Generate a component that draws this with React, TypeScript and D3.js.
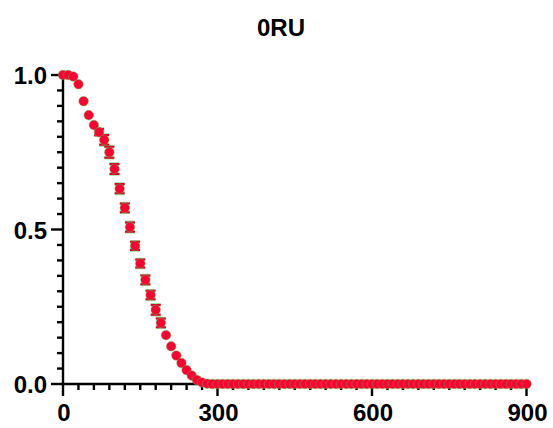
import React from "react";
import * as d3 from "d3";

const title = "0RU";
const times = [
  0, 10, 20, 30, 40, 50, 60, 70, 80, 90, 100, 110, 120, 130, 140, 150, 160, 170, 180, 190,
  200, 210, 220, 230, 240, 250, 260, 270, 280, 290, 300, 310, 320, 330, 340, 350, 360, 370, 380, 390,
  400, 410, 420, 430, 440, 450, 460, 470, 480, 490, 500, 510, 520, 530, 540, 550, 560, 570, 580, 590,
  600, 610, 620, 630, 640, 650, 660, 670, 680, 690, 700, 710, 720, 730, 740, 750, 760, 770, 780, 790,
  800, 810, 820, 830, 840, 850, 860, 870, 880, 890, 900,
];
const means = [
  1.0, 1.0, 0.995, 0.97, 0.915, 0.87, 0.838, 0.815, 0.79, 0.75, 0.696, 0.632, 0.57, 0.508, 0.447, 0.39, 0.337, 0.288, 0.24, 0.198,
  0.158, 0.122, 0.092, 0.068, 0.045, 0.027, 0.013, 0.005, 0.001, 0, 0, 0, 0, 0, 0, 0, 0, 0, 0, 0,
  0, 0, 0, 0, 0, 0, 0, 0, 0, 0, 0, 0, 0, 0, 0, 0, 0, 0, 0, 0,
  0, 0, 0, 0, 0, 0, 0, 0, 0, 0, 0, 0, 0, 0, 0, 0, 0, 0, 0, 0,
  0, 0, 0, 0, 0, 0, 0, 0, 0, 0, 0,
];
const errors = [
  0.004, 0.004, 0.004, 0.004, 0.004, 0.004, 0.005, 0.01, 0.016, 0.018, 0.016, 0.015, 0.014, 0.015, 0.013, 0.013, 0.014, 0.014, 0.016, 0.014,
  0.006, 0.004, 0.003, 0.003, 0.003, 0.003, 0.003, 0.002, 0, 0, 0, 0, 0, 0, 0, 0, 0, 0, 0, 0,
  0, 0, 0, 0, 0, 0, 0, 0, 0, 0, 0, 0, 0, 0, 0, 0, 0, 0, 0, 0,
  0, 0, 0, 0, 0, 0, 0, 0, 0, 0, 0, 0, 0, 0, 0, 0, 0, 0, 0, 0,
  0, 0, 0, 0, 0, 0, 0, 0, 0, 0, 0,
];
const xMajorTicks = [0, 300, 600, 900];
const xMinorTicks = [30, 60, 90, 120, 150, 180, 210, 240, 270, 330, 360, 390, 420, 450, 480, 510, 540, 570, 630, 660, 690, 720, 750, 780, 810, 840, 870];
const yMajorTicks = [0, 0.5, 1.0];
const yMinorTicks = [0.05, 0.1, 0.15, 0.2, 0.25, 0.3, 0.35, 0.4, 0.45, 0.55, 0.6, 0.65, 0.7, 0.75, 0.8, 0.85, 0.9, 0.95];

const W = 553;
const H = 428;
const RED = "#ff0033";
const GREEN = "#44cc44";
const FONT = "'Liberation Sans', Arial, Helvetica, sans-serif";

export default function App() {
  const x = d3.scaleLinear().domain([0, 900]).range([63, 526.5]);
  const y = d3.scaleLinear().domain([0, 1]).range([384, 75]);
  const data = times.map((t, i) => ({ t, m: means[i], e: errors[i] }));
  const fmt = d3.format(".1f");
  return (
    <svg width={W} height={H} style={{ position: "absolute", left: 0, top: 0, display: "block", background: "#fff" }}>
      <text x={281} y={36} textAnchor="middle" fontFamily={FONT} fontWeight="bold" fontSize={24} fill="#000">
        {title}
      </text>
      {/* axes */}
      <g stroke="#000" strokeWidth={2.4} fill="none">
        <line x1={x(0)} x2={x(0)} y1={y(1) - 1.2} y2={y(0) + 1.2} />
        <line x1={x(0) - 1.2} x2={x(900) + 1.2} y1={y(0)} y2={y(0)} />
        {yMajorTicks.map((v) => (
          <line key={"ym" + v} x1={x(0) - 12} x2={x(0)} y1={y(v)} y2={y(v)} />
        ))}
        {yMinorTicks.map((v) => (
          <line key={"yn" + v} x1={x(0) - 6} x2={x(0)} y1={y(v)} y2={y(v)} />
        ))}
        {xMajorTicks.map((v) => (
          <line key={"xm" + v} x1={x(v)} x2={x(v)} y1={y(0)} y2={y(0) + 12} />
        ))}
        {xMinorTicks.map((v) => (
          <line key={"xn" + v} x1={x(v)} x2={x(v)} y1={y(0)} y2={y(0) + 6} />
        ))}
      </g>
      <g fontFamily={FONT} fontWeight="bold" fontSize={24} fill="#000">
        {yMajorTicks.map((v) => (
          <text key={"yl" + v} x={47} y={y(v) + 9} textAnchor="end">
            {fmt(v)}
          </text>
        ))}
        {xMajorTicks.map((v) => (
          <text key={"xl" + v} x={x(v) + 1} y={421} textAnchor="middle">
            {v}
          </text>
        ))}
      </g>
      {/* error bars */}
      <g>
        {data
          .filter((d) => d.e > 0.006)
          .map((d, i) => {
            const cx = x(d.t);
            const y1 = y(d.m + d.e);
            const y2 = y(d.m - d.e);
            const path = `M${cx - 5},${y1}H${cx + 5}M${cx},${y1}V${y2}M${cx - 5},${y2}H${cx + 5}`;
            return (
              <g key={"e" + i}>
                <path d={path} stroke={GREEN} strokeOpacity={0.55} strokeWidth={3.6} fill="none" />
                <path d={path} stroke="#e0002e" strokeWidth={2} fill="none" />
              </g>
            );
          })}
      </g>
      {/* points */}
      <g>
        {data.map((d, i) => (
          <circle
            key={"p" + i}
            cx={x(d.t)}
            cy={y(d.m)}
            r={4.8}
            fill={RED}
            stroke={GREEN}
            strokeOpacity={0.6}
            strokeWidth={0.7}
          />
        ))}
      </g>
    </svg>
  );
}
